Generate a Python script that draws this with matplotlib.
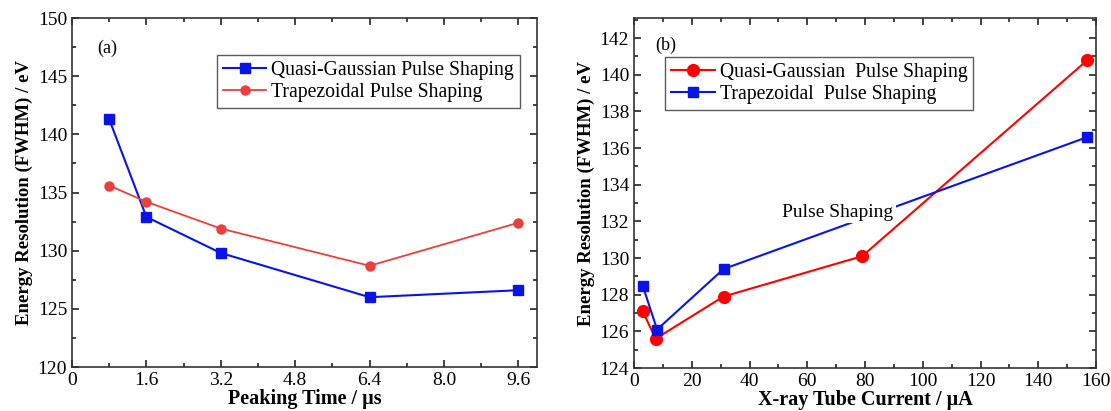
import matplotlib.pyplot as plt
from matplotlib.ticker import MultipleLocator

plt.rcParams['font.family'] = ['Liberation Serif', 'DejaVu Serif']

# (a) peaking time
peak_time = [0.8, 1.6, 3.2, 6.4, 9.6]
quasi_a = [141.3, 132.9, 129.8, 126.0, 126.6]
trap_a = [135.6, 134.2, 131.9, 128.7, 132.4]

# (b) tube current
cur_quasi = [3, 7.5, 31, 79, 157]
quasi_b = [127.1, 125.6, 127.9, 130.1, 140.8]
cur_trap = [3, 8, 31, 157]
trap_b = [128.5, 126.1, 129.4, 136.6]

fig = plt.figure(figsize=(11.11, 4.11), dpi=100)
ax1 = fig.add_axes([72/1111, 44/411, 465/1111, 349/411])
ax2 = fig.add_axes([634/1111, 43/411, 462/1111, 350/411])

leg_kw = dict(fontsize=14.2, frameon=True, fancybox=False, edgecolor='#333333',
              borderpad=0.3, handlelength=2.2, handletextpad=0.25,
              labelspacing=0.15, borderaxespad=0)

ax1.plot(peak_time, quasi_a, '-s', color='#0a14e6', ms=6.5, lw=1.5,
         label='Quasi-Gaussian Pulse Shaping')
ax1.plot(peak_time, trap_a, '-o', color='#e8403c', ms=6.5, lw=1.3,
         label='Trapezoidal Pulse Shaping')
ax1.set_xlim(0, 10)
ax1.set_ylim(120, 150)
ax1.xaxis.set_minor_locator(MultipleLocator(0.8))
ax1.yaxis.set_major_locator(MultipleLocator(5))
ax1.yaxis.set_minor_locator(MultipleLocator(2.5))
ax1.set_xticks([0, 1.6, 3.2, 4.8, 6.4, 8.0, 9.6])
ax1.set_xticklabels(['0', '1.6', '3.2', '4.8', '6.4', '8.0', '9.6'])
ax1.set_xlabel('Peaking Time / µs', fontsize=14.5, fontweight='bold', labelpad=0)
ax1.set_ylabel('Energy Resolution (FWHM) / eV', fontsize=13.5, fontweight='bold', labelpad=3)
ax1.text(0.055, 0.9, '(a)', transform=ax1.transAxes, fontsize=13)
ax1.legend(loc='upper right', bbox_to_anchor=(0.963, 0.894), **leg_kw)

ax2.plot(cur_quasi, quasi_b, '-o', color='#ff0000', ms=8.5, lw=1.5,
         label='Quasi-Gaussian  Pulse Shaping')
ax2.plot(cur_trap, trap_b, '-s', color='#0a14e6', ms=7.5, lw=1.5,
         label='Trapezoidal  Pulse Shaping')
ax2.set_xlim(0, 160)
ax2.set_ylim(124, 143.1)
ax2.xaxis.set_major_locator(MultipleLocator(20))
ax2.xaxis.set_minor_locator(MultipleLocator(10))
ax2.yaxis.set_major_locator(MultipleLocator(2))
ax2.yaxis.set_minor_locator(MultipleLocator(1))
ax2.set_xlabel('X-ray Tube Current / µA', fontsize=14.5, fontweight='bold', labelpad=0)
ax2.set_ylabel('Energy Resolution (FWHM) / eV', fontsize=13.5, fontweight='bold', labelpad=3)
ax2.text(0.045, 0.91, '(b)', transform=ax2.transAxes, fontsize=13)
ax2.text(70.5, 132.5, 'Pulse Shaping', fontsize=14, ha='center', va='center',
         bbox=dict(facecolor='white', edgecolor='none', pad=2))
ax2.legend(loc='upper left', bbox_to_anchor=(0.068, 0.889), **leg_kw)

for ax in (ax1, ax2):
    ax.tick_params(which='both', direction='in', top=True, right=True,
                   labelsize=14, width=1.2, color='#222222')
    ax.tick_params(which='major', length=5)
    ax.tick_params(which='minor', length=3)
    for s in ax.spines.values():
        s.set_linewidth(1.2)
        s.set_color('#333333')

fig.savefig('out.png', dpi=100)
